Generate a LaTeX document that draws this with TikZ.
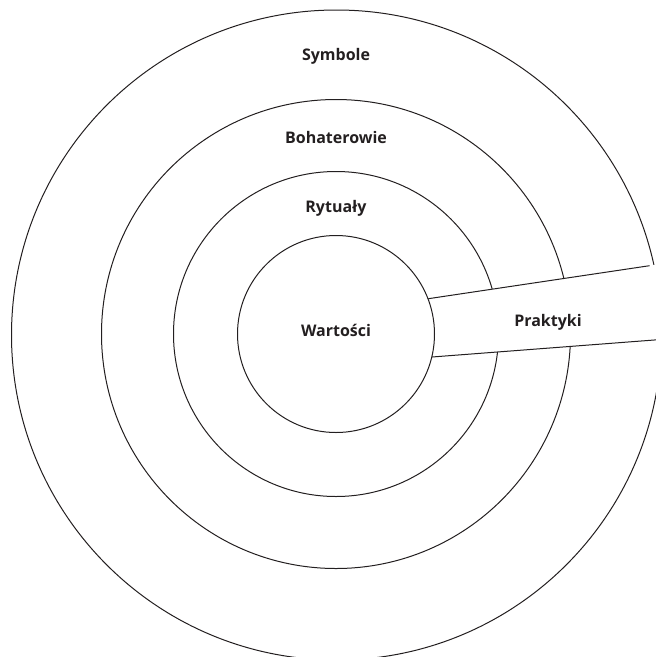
\documentclass[tikz,border=0pt]{standalone}
\usepackage{fontspec}
\setmainfont{Open Sans}
\definecolor{ink}{HTML}{231F20}
\begin{document}
\begin{tikzpicture}[x=1pt,y=-1pt,
  ring/.style={draw=ink,line width=1pt},
  lbl/.style={font=\bfseries\fontsize{16}{19}\selectfont,text=ink,inner sep=0pt}]
\useasboundingbox (0,0) rectangle (656,657);
\clip (0,0) rectangle (656,657);
\coordinate (c) at (336,334);
\coordinate (co) at (336.5,335);
\draw[ring] (co) circle[radius=325];
\draw[ring] (c) circle[radius=234.5];
\draw[ring] (c) circle[radius=162.5];
\coordinate (u1) at (428.3,298.7);
\coordinate (u2) at (649.5,265.7);
\coordinate (u3) at (700,258);
\coordinate (l1) at (432,357);
\coordinate (l2) at (660,339.5);
\coordinate (l3) at (700,336.5);
\fill[white] (c) -- (u1) -- (u2) -- (u3) -- (l3) -- (l2) -- (l1) -- cycle;
\draw[ring,fill=white] (c) circle[radius=98.5];
\draw[ring] (u1) -- (u2);
\draw[ring] (l1) -- (l3);
\node[lbl] (sym) at (336,56) {Symbole};
\node[lbl] (boh) at (336,137) {Bohaterowie};
\node[lbl] (ryt) at (336,208) {Rytuały};
\node[lbl] (war) at (336,330) {Wartości};
\node[lbl] (pra) at (548,322) {Praktyki};
\end{tikzpicture}
\end{document}
